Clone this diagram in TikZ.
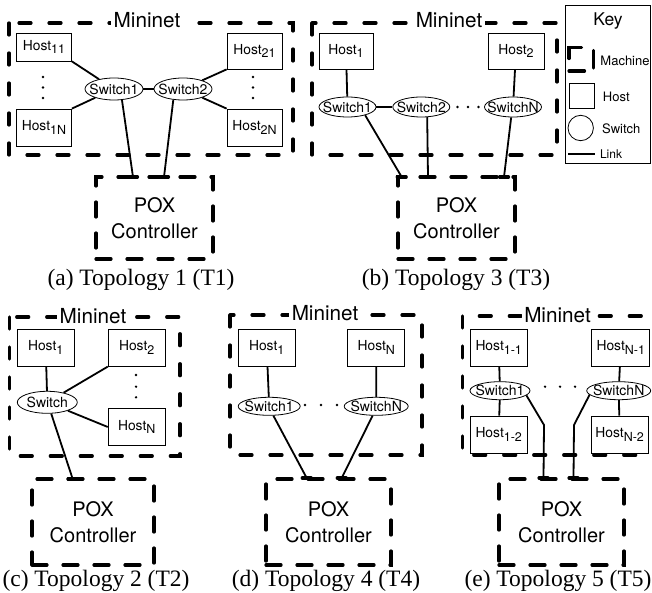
\documentclass[tikz,border=0pt]{standalone}
\usepackage{fontspec}
\setmainfont{Liberation Serif}
\newfontfamily\hel{TeX Gyre Heros}
\usetikzlibrary{shapes.geometric}
\newcommand\hs[1]{\raisebox{-3.5pt}{\fontsize{12.5}{12.5}\selectfont #1}}
\newcommand\zb[1]{\makebox[0pt]{#1}}
\begin{document}
\begin{tikzpicture}[x=1pt,y=-1pt,
 mach/.style={line width=3.2pt, line cap=round, dash pattern=on 12pt off 18pt},
 ctl/.style={draw, line width=3.2pt, line cap=round, dash pattern=on 15pt off 16pt, align=center, inner sep=0pt, font=\hel\fontsize{20}{26}\selectfont},
 teeseg/.style={line width=3.2pt, line cap=round},
 host/.style={draw, line width=0.8pt, inner sep=0pt, minimum width=55pt, minimum height=36pt, font=\hel\fontsize{13.8}{14}\selectfont},
 sw/.style={draw, ellipse, line width=0.8pt, inner sep=0pt, minimum width=58pt, minimum height=21pt, font=\hel\fontsize{14}{14}\selectfont},
 link/.style={line width=1.8pt},
 mn/.style={fill=white, inner sep=2.5pt, font=\hel\fontsize{20.7}{24}\selectfont},
 keyl/.style={inner sep=0pt, font=\hel\fontsize{13}{14}\selectfont},
 capt/.style={anchor=base, inner sep=0pt, font=\fontsize{23.5}{28}\selectfont},
]
\useasboundingbox (0,0) rectangle (652,593);
\clip (0,0) rectangle (652,593);

% ---------------- T1 ----------------
\draw[mach] (9,23) rectangle (293,155);
\node[mn] (m1) at (147,20) {Mininet};
\node[host, minimum height=28pt] (h11) at (44,47) {Host\hs{11}};
\node[host, minimum height=37pt] (h1n) at (44,127.5) {Host\hs{1N}};
\node[host, minimum height=36pt] (h21) at (254.5,51) {Host\hs{21}};
\node[host, minimum height=37pt] (h2n) at (254.5,127.5) {Host\hs{2N}};
\node[sw, minimum height=22pt] (s11) at (114,89) {\zb{Switch1}};
\node[sw, minimum height=22pt] (s12) at (183,89) {\zb{Switch2}};
\foreach \y in {77,87.5,98} {\fill (43,\y) circle (1.3); \fill (253,\y) circle (1.3);}
\node[ctl, minimum width=117pt, minimum height=82pt] (c1) at (154.5,218) {POX\\Controller};
\coordinate (t1a) at (133,177);
\coordinate (t1b) at (164,177);
\draw[link] (h11.south east) -- (s11);
\draw[link] (h1n.north east) -- (s11);
\draw[link] (h21.south west) -- (s12);
\draw[link] (h2n.north west) -- (s12);
\draw[link] (s11) -- (s12);
\draw[link] (s11.-54) -- (t1a);
\draw[link] (s12.-132) -- (t1b);
\foreach \c in {t1a,t1b} \draw[teeseg] (\c) ++(-4.5,0) -- ++(9,0);
\node[capt] (ca) at (141,285) {(a) Topology 1 (T1)};

% ---------------- T3 ----------------
\draw[mach] (312,23) rectangle (557,155);
\node[mn] (m3) at (449,20) {Mininet};
\node[host, minimum width=54pt] (h31) at (346,51) {Host\hs{1}};
\node[host, minimum width=56pt] (h32) at (516,51) {Host\hs{2}};
\node[sw, minimum height=20pt, minimum width=57pt] (s31) at (347.5,107) {\zb{Switch1}};
\node[sw, minimum height=20pt, minimum width=57pt] (s32) at (421.3,107) {\zb{Switch2}};
\node[sw, minimum height=20pt, minimum width=57pt] (s3n) at (513,107) {\zb{SwitchN}};
\foreach \x in {457.5,468,478.5} \fill (\x,107) circle (1.3);
\node[ctl, minimum width=117pt, minimum height=82pt] (c3) at (456.5,218) {POX\\Controller};
\coordinate (t3a) at (401.7,177);
\coordinate (t3b) at (428,177);
\coordinate (t3c) at (504,177);
\draw[link] (h31) -- (s31);
\draw[link] (h32) -- (s3n);
\draw[link] (s31) -- (s32);
\draw[link] (s31.-25) -- (t3a);
\draw[link] (s32.-60) -- (t3b);
\draw[link] (s3n.-100) -- (t3c);
\foreach \c in {t3a,t3b,t3c} \draw[teeseg] (\c) ++(-4.5,0) -- ++(9,0);
\node[capt] (cb) at (456,285) {(b) Topology 3 (T3)};

% ---------------- Key ----------------
\draw[line width=0.8pt] (565,5) rectangle (650,163);
\node[inner sep=0pt, font=\hel\fontsize{17.5}{20}\selectfont] (kt) at (608,21) {Key};
\draw[teeseg] (569,58.5) -- (569,47.7) -- (581.5,47.7);
\draw[teeseg] (569,71) -- (584.5,71);
\draw[teeseg] (593.5,50.5) -- (593.5,68);
\node[keyl] (km) at (625,61) {Machine};
\node[draw, line width=0.8pt, minimum size=25pt, inner sep=0pt] (kh) at (581.5,95.5) {};
\node[keyl] (khl) at (616.3,96.7) {Host};
\node[draw, circle, line width=0.8pt, minimum size=25.4pt, inner sep=0pt] (ks) at (580.7,128) {};
\node[keyl] (ksl) at (621.3,128.3) {Switch};
\draw[line width=1.8pt] (568,154) -- (595,154);
\node[keyl, font=\hel\fontsize{12}{13}\selectfont] (kll) at (611,154) {Link};

% ---------------- T2 ----------------
\draw[mach] (9.3,317) rectangle (180,456);
\node[mn] (m2) at (93,316) {Mininet};
\node[host, minimum width=57pt, minimum height=37pt] (b1) at (45.7,347.7) {Host\hs{1}};
\node[host, minimum width=57pt, minimum height=37pt] (b2) at (136.7,347.7) {Host\hs{2}};
\node[host, minimum width=57pt, minimum height=37pt] (bn) at (136.7,427) {Host\hs{N}};
\node[sw, minimum height=22pt, minimum width=60pt] (bs) at (47.3,402.3) {\zb{Switch}};
\foreach \y in {375,386.7,397.3} \fill (136,\y) circle (1.3);
\node[ctl, minimum width=122pt, minimum height=86pt] (c2) at (93,522) {POX\\Controller};
\coordinate (t2a) at (72.7,479);
\draw[link] (b1) -- (bs);
\draw[link] (b2.south west) -- (bs);
\draw[link] (bn.west) -- (bs);
\draw[link] (bs.-71) -- (t2a);
\draw[teeseg] (t2a) ++(-4.5,0) -- ++(9,0);
\node[capt] (cc) at (96,586) {(c) Topology 2 (T2)};

% ---------------- T4 ----------------
\draw[mach] (230,315) rectangle (422,455);
\node[mn] (m4) at (325,313) {Mininet};
\node[host, minimum width=57pt, minimum height=37pt] (d1) at (266.7,347.7) {Host\hs{1}};
\node[host, minimum width=57pt, minimum height=37pt] (dn) at (376.3,347.7) {Host\hs{N}};
\node[sw, minimum height=18pt, minimum width=62pt] (ds1) at (269.2,406.3) {\zb{Switch1}};
\node[sw, minimum height=18pt, minimum width=64pt] (dsn) at (376.2,406.3) {\zb{SwitchN}};
\foreach \x in {305,321,337} \fill (\x,405) circle (1.3);
\node[ctl, minimum width=125pt, minimum height=86pt] (c4) at (328.5,522) {POX\\Controller};
\coordinate (t4a) at (306.7,478);
\coordinate (t4b) at (341.7,478);
\draw[link] (d1) -- (ds1);
\draw[link] (dn) -- (dsn);
\draw[link] (ds1.-66) -- (t4a);
\draw[link] (dsn.-111) -- (t4b);
\foreach \c in {t4a,t4b} \draw[teeseg] (\c) ++(-4.5,0) -- ++(9,0);
\node[capt] (cd) at (326,586) {(d) Topology 4 (T4)};

% ---------------- T5 ----------------
\draw[mach] (462.7,316) rectangle (668,455);
\node[mn] (m5) at (557.5,315) {Mininet};
\node[host, minimum width=57pt, minimum height=37pt] (e11) at (498.7,347.7) {Host\hs{1-1}};
\node[host, minimum width=58pt, minimum height=37pt] (en1) at (620.8,347.7) {Host\hs{N-1}};
\node[host, minimum width=57pt, minimum height=37pt] (e12) at (498.7,434.5) {Host\hs{1-2}};
\node[host, minimum width=57pt, minimum height=37pt] (en2) at (619.7,434.5) {Host\hs{N-2}};
\node[sw, minimum height=18pt, minimum width=60pt] (es1) at (500,390.7) {\zb{Switch1}};
\node[sw, minimum height=18pt, minimum width=64pt] (esn) at (618.7,390.7) {\zb{SwitchN}};
\foreach \x in {545,560,575} \fill (\x,386.7) circle (1.3);
\node[ctl, minimum width=125pt, minimum height=86pt] (c5) at (561.5,522) {POX\\Controller};
\coordinate (b5a) at (544,425);
\coordinate (b5b) at (574,425);
\coordinate (t5a) at (543.5,478);
\coordinate (t5b) at (573.5,478);
\draw[link] (e11) -- (es1);
\draw[link] (es1) -- (e12);
\draw[link] (en1) -- (esn);
\draw[link] (esn) -- (en2);
\draw[link] (es1.-10) -- (b5a) -- (t5a);
\draw[link] (esn.-172) -- (b5b) -- (t5b);
\foreach \c in {t5a,t5b} \draw[teeseg] (\c) ++(-4.5,0) -- ++(9,0);
\node[capt] (ce) at (558,586) {(e) Topology 5 (T5)};
\end{tikzpicture}
\end{document}
